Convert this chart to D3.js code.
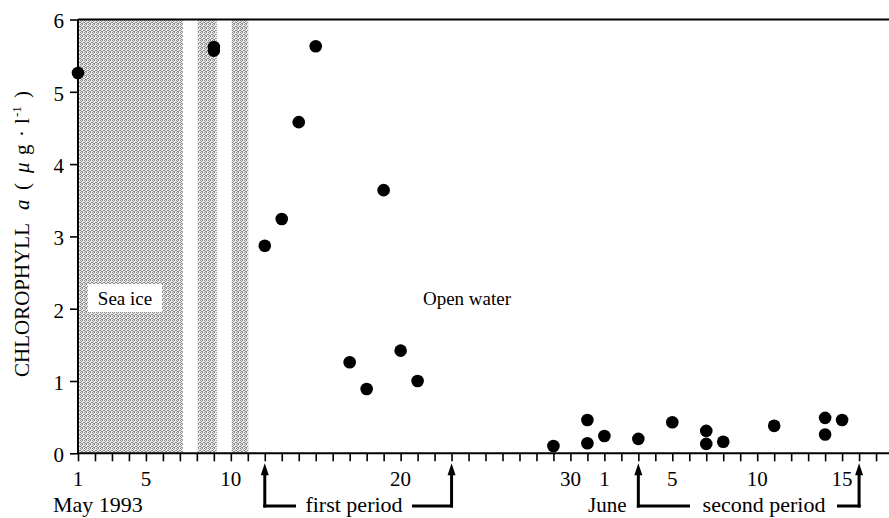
<!DOCTYPE html>
<html>
<head>
<meta charset="utf-8">
<script src="https://cdn.jsdelivr.net/npm/d3@7"></script>
<style>
  body { margin: 0; background: #fff; }
  text { font-family: "Liberation Serif", "DejaVu Serif", serif; fill: #000; }
</style>
</head>
<body>
<svg id="chart" width="889" height="518"></svg>
<script>
// sampling day (1 = 1 May 1993, 32 = 1 June) and chlorophyll a values
const days = [1, 9, 9, 12, 13, 14, 15, 17, 18, 19, 20, 21, 29, 31, 31, 32, 34, 36, 38, 38, 39, 42, 45, 45, 46]
const chl = [5.26, 5.62, 5.57, 2.87, 3.24, 4.58, 5.63, 1.26, 0.89, 3.64, 1.42, 1.00, 0.10, 0.46, 0.14, 0.24, 0.20, 0.43, 0.31, 0.13, 0.16, 0.38, 0.49, 0.26, 0.46]

// sea ice periods
const iceStart = [1, 8.05, 10.05]
const iceEnd = [7.17, 9.17, 11.03]

const tickDays = [1, 5, 10, 20, 30, 32, 36, 41, 46]
const tickLabels = ['1', '5', '10', '20', '30', '1', '5', '10', '15']
const yTicks = [0, 1, 2, 3, 4, 5, 6]

const firstPeriod = [12, 23]
const secondPeriod = [34, 47]

const svg = d3.select('#chart')
const padL = 78
const padT = 19.5
const baseY = 453.3
const dayPx = 16.98

const x = d3.scaleLinear().domain([1, 48.5]).range([padL, padL + 47.5 * dayPx])
const y = d3.scaleLinear().domain([0, 6]).range([baseY, padT])

// stipple for the ice
const defs = svg.append('defs')
const pat = defs.append('pattern')
  .attr('id', 'stipple').attr('width', 4).attr('height', 4)
  .attr('patternUnits', 'userSpaceOnUse')
pat.append('rect').attr('width', 4).attr('height', 4).attr('fill', '#ececec')
const dots = [[0, 0], [2, 0], [1, 1], [3, 2], [0, 2], [2, 3], [1, 3]]
pat.selectAll('.d').data(dots).enter().append('rect')
  .attr('x', d => d[0]).attr('y', d => d[1]).attr('width', 1).attr('height', 1)
  .attr('fill', '#8a8a8a')

svg.append('g').selectAll('rect')
  .data(iceStart.map((s, i) => [s, iceEnd[i]]))
  .enter().append('rect')
  .attr('x', d => x(d[0]))
  .attr('y', y(6))
  .attr('width', d => x(d[1]) - x(d[0]))
  .attr('height', y(0) - y(6))
  .attr('fill', 'url(#stipple)')

// labels for the two regimes
const seaIce = svg.append('g')
seaIce.append('rect').attr('x', 88).attr('y', 284).attr('width', 74).attr('height', 28).attr('fill', '#fff')
seaIce.append('text').attr('x', 125).attr('y', 305).attr('text-anchor', 'middle')
  .style('font-size', '19px').text('Sea ice')
svg.append('text').attr('x', 467).attr('y', 305).attr('text-anchor', 'middle')
  .style('font-size', '19px').text('Open water')

// axes
const xAxis = d3.axisBottom(x)
  .tickValues(d3.range(1, 49))
  .tickSize(8)
  .tickFormat('')
const gx = svg.append('g').attr('transform', `translate(0,${baseY})`).call(xAxis)
gx.select('.domain').attr('d', `M${padL},0H889`).attr('stroke-width', 2)
gx.selectAll('.tick line').attr('stroke-width', 1.6)

gx.selectAll('.lbl')
  .data(tickDays)
  .enter().append('text')
  .attr('class', 'lbl')
  .attr('x', d => x(d))
  .attr('y', 33)
  .attr('text-anchor', 'middle')
  .style('font-size', '21px')
  .text((d, i) => tickLabels[i])

const yAxis = d3.axisLeft(y).tickValues(yTicks).tickSize(8).tickPadding(6).tickFormat(d3.format('d'))
const gy = svg.append('g').attr('transform', `translate(${padL},0)`).call(yAxis)
gy.select('.domain').attr('d', `M0,${baseY}V${padT}`).attr('stroke-width', 2)
gy.selectAll('.tick line').attr('stroke-width', 1.6)
gy.selectAll('.tick text')
  .attr('dy', '0.4em')
  .style('font-family', '"Liberation Serif", serif')
  .style('font-size', '21px')

// top frame line
svg.append('line').attr('x1', padL).attr('x2', 889).attr('y1', padT).attr('y2', padT)
  .attr('stroke', '#000').attr('stroke-width', 1.8)

// y title, spaced out like the original
const yt = svg.append('text')
  .attr('transform', 'translate(29,0) rotate(-90)')
  .style('font-size', '21px')
yt.append('tspan').attr('x', -377).text('CHLOROPHYLL')
yt.append('tspan').attr('x', -210).style('font-style', 'italic').text('a')
yt.append('tspan').attr('x', -190).text('(')
yt.append('tspan').attr('x', -173).style('font-style', 'italic').text('μ')
yt.append('tspan').attr('x', -155).text('g')
yt.append('tspan').attr('x', -137).text('·')
yt.append('tspan').attr('x', -124).text('l')
yt.append('tspan').attr('x', -117).attr('dy', -8).style('font-size', '13px').text('-1')
yt.append('tspan').attr('x', -98).attr('dy', 8).text(')')

// points
svg.append('g').selectAll('circle')
  .data(days.map((d, i) => [d, chl[i]]))
  .enter().append('circle')
  .attr('cx', d => x(d[0]))
  .attr('cy', d => y(d[1]))
  .attr('r', 6.3)
  .attr('fill', '#000')

// bracket arrows under the axis
const arrowY = 506
const tipY = baseY + 10
const drawArrow = (day) => {
  const cx = x(day)
  svg.append('line').attr('x1', cx).attr('x2', cx).attr('y1', tipY + 8).attr('y2', arrowY + 1.5)
    .attr('stroke', '#000').attr('stroke-width', 3)
  svg.append('path')
    .attr('d', `M${cx},${tipY} L${cx - 4},${tipY + 12} L${cx + 4},${tipY + 12} Z`)
    .attr('fill', '#000')
}
const bracket = (period, gap0, gap1) => {
  drawArrow(period[0])
  drawArrow(period[1])
  svg.append('line').attr('x1', x(period[0]) - 1.5).attr('x2', gap0).attr('y1', arrowY).attr('y2', arrowY)
    .attr('stroke', '#000').attr('stroke-width', 3)
  svg.append('line').attr('x1', gap1).attr('x2', x(period[1]) + 1.5).attr('y1', arrowY).attr('y2', arrowY)
    .attr('stroke', '#000').attr('stroke-width', 3)
}
bracket(firstPeriod, 296, 412)
bracket(secondPeriod, 690, 837)

svg.append('text').attr('x', 354).attr('y', 512).attr('text-anchor', 'middle')
  .style('font-size', '22px').text('first period')
svg.append('text').attr('x', 764).attr('y', 512).attr('text-anchor', 'middle')
  .style('font-size', '22px').text('second period')
svg.append('text').attr('x', 53).attr('y', 512).style('font-size', '22px').text('May 1993')
svg.append('text').attr('x', 588).attr('y', 512).style('font-size', '21px').text('June')
</script>
</body>
</html>
